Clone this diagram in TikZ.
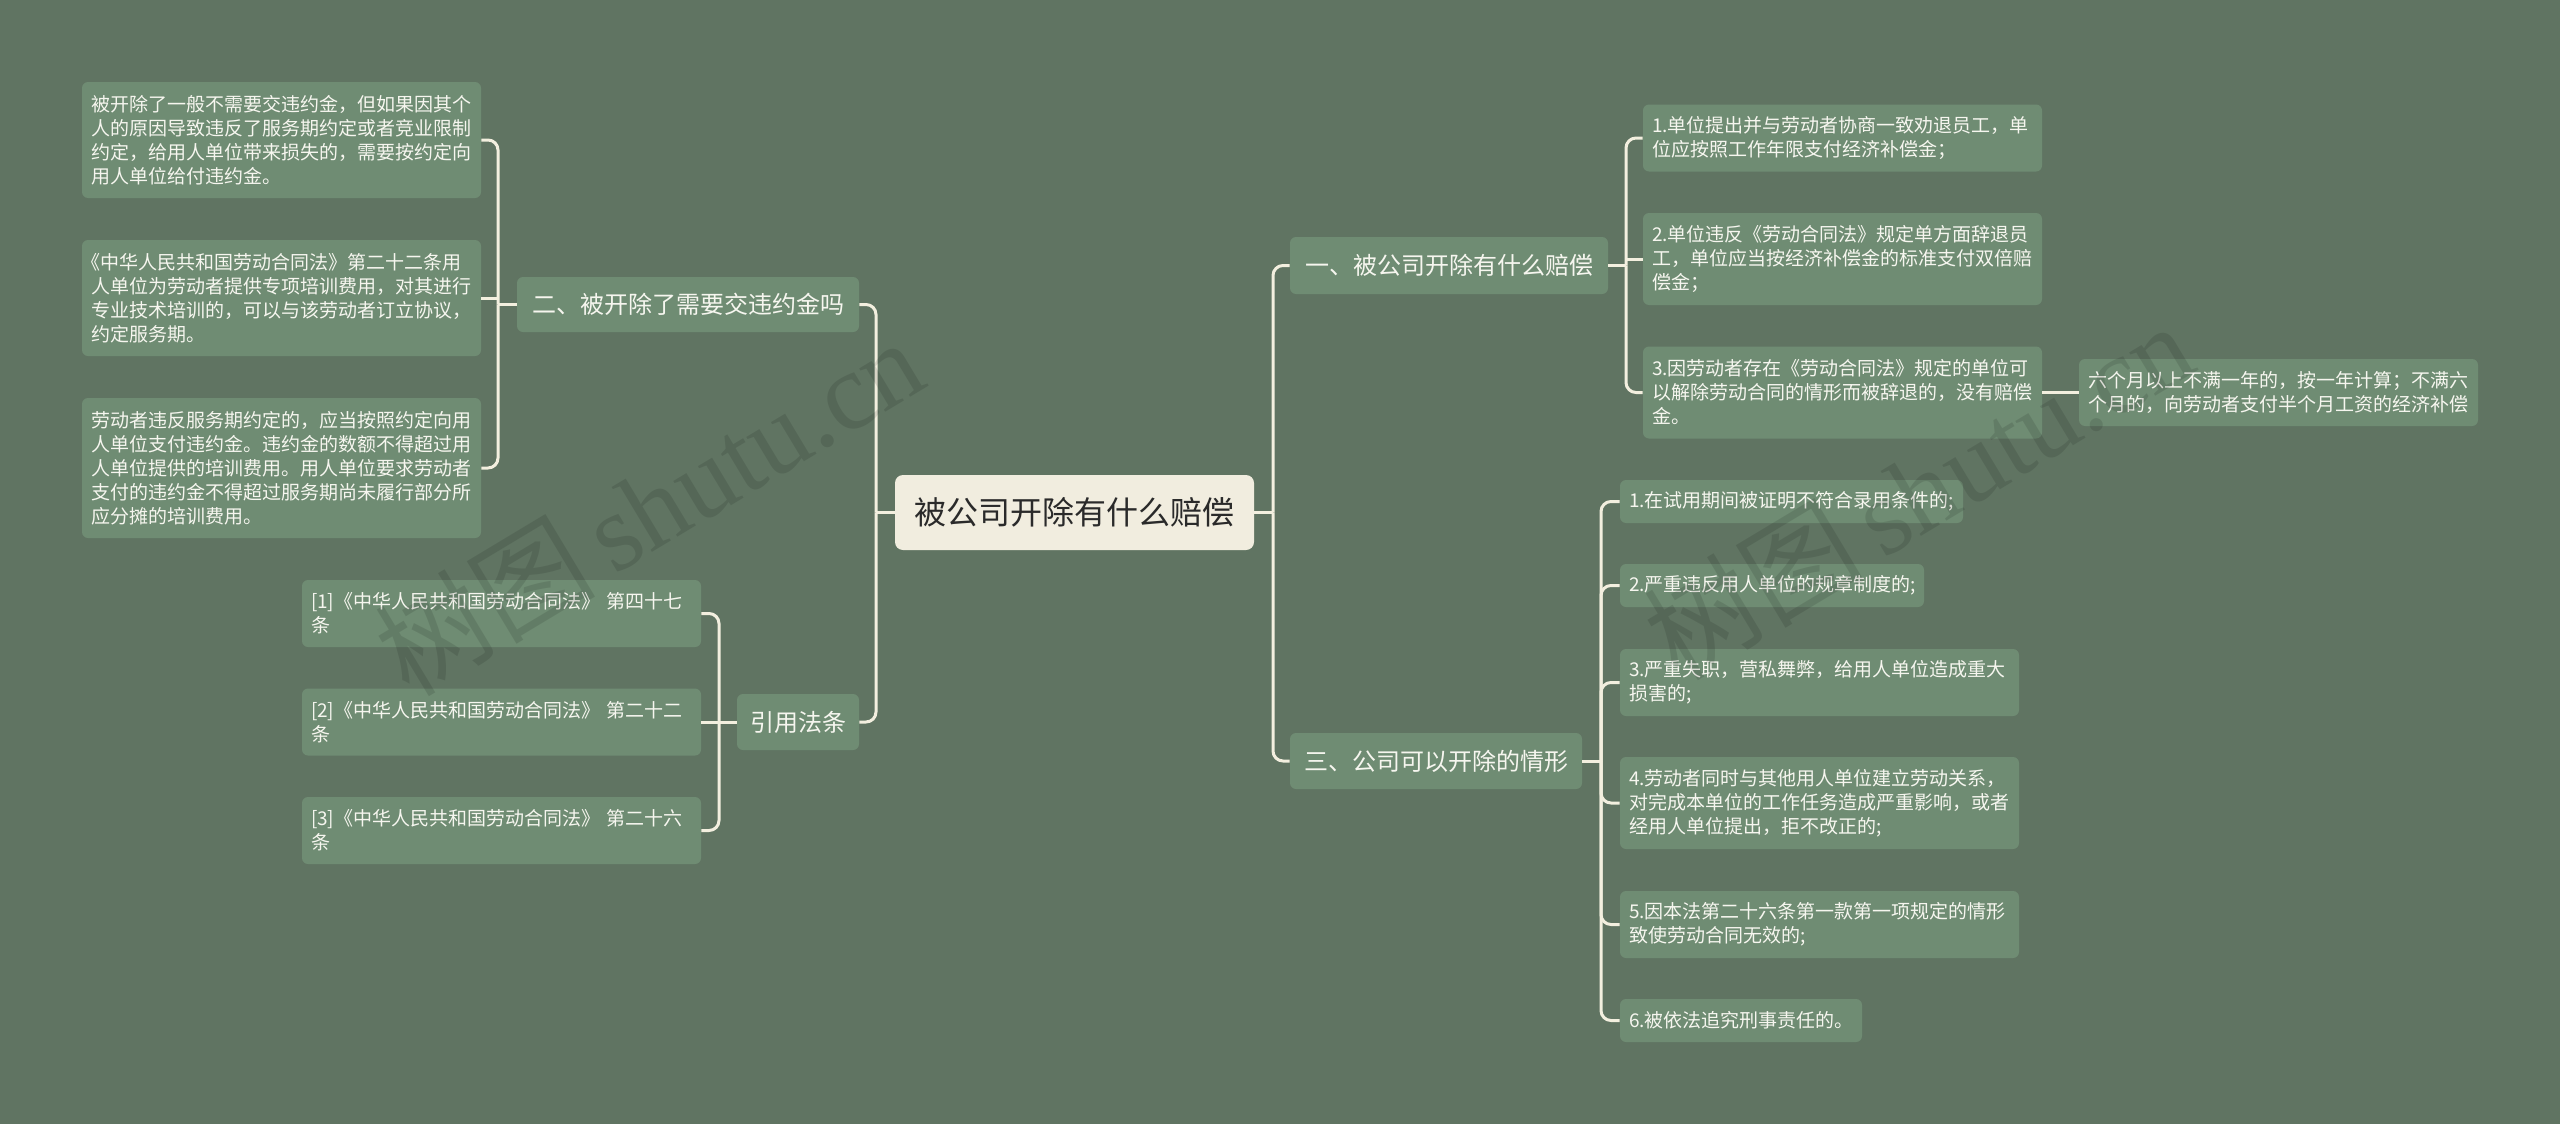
\documentclass[tikz,border=0pt]{standalone}
\usepackage{fontspec}
\setmainfont{Noto Sans CJK SC}
\newfontfamily\wmserif{Liberation Serif}
\definecolor{bgc}{HTML}{607462}
\definecolor{boxc}{HTML}{6F8C73}
\definecolor{rootc}{HTML}{F1EDDF}
\definecolor{linec}{HTML}{F3EFDF}
\definecolor{txtc}{HTML}{F6F6EF}
\definecolor{roottxt}{HTML}{2A2A2A}
\begin{document}
\begin{tikzpicture}[x=0.5pt,y=-0.5pt,
  conn/.style={draw=linec, line width=1.5pt, rounded corners=5pt},
  leaf/.style={fill=boxc, rounded corners=3pt, text=txtc, font=\fontsize{9.5}{12}\selectfont, align=left, inner xsep=4.5pt, inner ysep=0pt, text width=190.5pt},
  branch/.style={fill=boxc, rounded corners=3pt, text=txtc, font=\fontsize{12}{14}\selectfont, align=center, inner sep=0pt},
  rootbox/.style={fill=rootc, rounded corners=4pt, text=roottxt, font=\fontsize{16}{18}\selectfont, align=center, inner sep=0pt},
  wm/.style={text=black, text opacity=0.11, font=\fontsize{55}{60}\selectfont, inner sep=0pt}
]
\useasboundingbox (0,0) rectangle (2560,1124);
\fill[bgc] (0,0) rectangle (2560,1124);

% root and branches
\node[rootbox, minimum width=179.5pt, minimum height=37.5pt] (root) at (1074.5,512.5) {被公司开除有什么赔偿};
\node[branch, minimum width=171pt, minimum height=27.5pt] (b2) at (688,304.5) {二、被开除了需要交违约金吗};
\node[branch, minimum width=61pt, minimum height=28pt] (b4) at (798,722) {引用法条};
\node[branch, minimum width=159pt, minimum height=28.5pt] (b1) at (1449,265.5) {一、被公司开除有什么赔偿};
\node[branch, minimum width=146pt, minimum height=28pt] (b3) at (1436,761) {三、公司可以开除的情形};

% left leaves
\node[leaf, minimum height=58pt] (a1) at (281.5,140) {被开除了一般不需要交违约金，但如果因其个\\人的原因导致违反了服务期约定或者竞业限制\\约定，给用人单位带来损失的，需要按约定向\\用人单位给付违约金。};
\node[leaf, minimum height=58pt] (a2) at (281.5,298) {\hspace*{-0.5em}《中华人民共和国劳动合同法》第二十二条用\\人单位为劳动者提供专项培训费用，对其进行\\专业技术培训的，可以与该劳动者订立协议，\\约定服务期。};
\node[leaf, minimum height=70pt] (a3) at (281.5,468) {劳动者违反服务期约定的，应当按照约定向用\\人单位支付违约金。违约金的数额不得超过用\\人单位提供的培训费用。用人单位要求劳动者\\支付的违约金不得超过服务期尚未履行部分所\\应分摊的培训费用。};
\node[leaf, minimum height=33.5pt] (c1) at (501.5,613.5) {[1]《中华人民共和国劳动合同法》 第四十七\\条};
\node[leaf, minimum height=33.5pt] (c2) at (501.5,722) {[2]《中华人民共和国劳动合同法》 第二十二\\条};
\node[leaf, minimum height=33.5pt] (c3) at (501.5,830.5) {[3]《中华人民共和国劳动合同法》 第二十六\\条};

% right leaves
\node[leaf, minimum height=33.5pt] (e_b1) at (1842.5,138) {1.单位提出并与劳动者协商一致劝退员工，单\\位应按照工作年限支付经济补偿金；};
\node[leaf, minimum height=46pt] (e_b2) at (1842.5,259) {2.单位违反《劳动合同法》规定单方面辞退员\\工，单位应当按经济补偿金的标准支付双倍赔\\偿金；};
\node[leaf, minimum height=46pt] (e_b3) at (1842.5,392.5) {3.因劳动者存在《劳动合同法》规定的单位可\\以解除劳动合同的情形而被辞退的，没有赔偿\\金。};
\node[leaf, minimum height=33.5pt] (d) at (2278.5,392.5) {六个月以上不满一年的，按一年计算；不满六\\个月的，向劳动者支付半个月工资的经济补偿};

\node[leaf, text width=162.5pt, minimum height=21.5pt] (e1) at (1791.5,501.5) {1.在试用期间被证明不符合录用条件的;};
\node[leaf, text width=143pt, minimum height=21.5pt] (e2) at (1772,585.5) {2.严重违反用人单位的规章制度的;};
\node[leaf, minimum height=33.5pt] (e3) at (1819.5,682.5) {3.严重失职，营私舞弊，给用人单位造成重大\\损害的;};
\node[leaf, minimum height=46pt] (e4) at (1819.5,803) {4.劳动者同时与其他用人单位建立劳动关系，\\对完成本单位的工作任务造成严重影响，或者\\经用人单位提出，拒不改正的;};
\node[leaf, minimum height=33.5pt] (e5) at (1819.5,924.5) {5.因本法第二十六条第一款第一项规定的情形\\致使劳动合同无效的;};
\node[leaf, text width=112pt, minimum height=21.5pt] (e6) at (1741,1020.5) {6.被依法追究刑事责任的。};

% bracket columns
\coordinate (xL) at (876,0);
\coordinate (xR) at (1273,0);
\coordinate (xA) at (498,0);
\coordinate (xC) at (719,0);
\coordinate (xB) at (1626,0);
\coordinate (xE) at (1601,0);

% root to branches
\draw[conn] (root.west) -- (root.west -| xL);
\draw[conn] (root.west -| xL) |- (b2.east);
\draw[conn] (root.west -| xL) |- (b4.east);
\draw[conn] (root.east) -- (root.east -| xR);
\draw[conn] (root.east -| xR) |- (b1.west);
\draw[conn] (root.east -| xR) |- (b3.west);

% branch 二
\draw[conn] (b2.west) -- (b2.west -| xA);
\draw[conn] (b2.west -| xA) |- (a1.east);
\draw[conn] (b2.west -| xA) |- (a3.east);
\draw[conn] (a2.east) -- (a2.east -| xA);

% 引用法条
\draw[conn] (b4.west) -- (b4.west -| xC);
\draw[conn] (b4.west -| xC) |- (c1.east);
\draw[conn] (b4.west -| xC) |- (c3.east);
\draw[conn] (c2.east) -- (c2.east -| xC);

% branch 一
\draw[conn] (b1.east) -- (b1.east -| xB);
\draw[conn] (b1.east -| xB) |- (e_b1.west);
\draw[conn] (b1.east -| xB) |- (e_b3.west);
\draw[conn] (e_b2.west) -- (e_b2.west -| xB);
\draw[conn] (e_b3.east) -- (d.west);

% branch 三
\draw[conn] (b3.east) -- (b3.east -| xE);
\foreach \n in {e1,e2,e3,e4,e5,e6}
  \draw[conn] (b3.east -| xE) |- (\n.west);

% watermark
\node[wm, rotate=31] (wm1) at (649,506) {树图\,{\wmserif shutu.cn}};
\node[wm, rotate=31] (wm2) at (1918,490) {树图\,{\wmserif shutu.cn}};
\end{tikzpicture}
\end{document}
